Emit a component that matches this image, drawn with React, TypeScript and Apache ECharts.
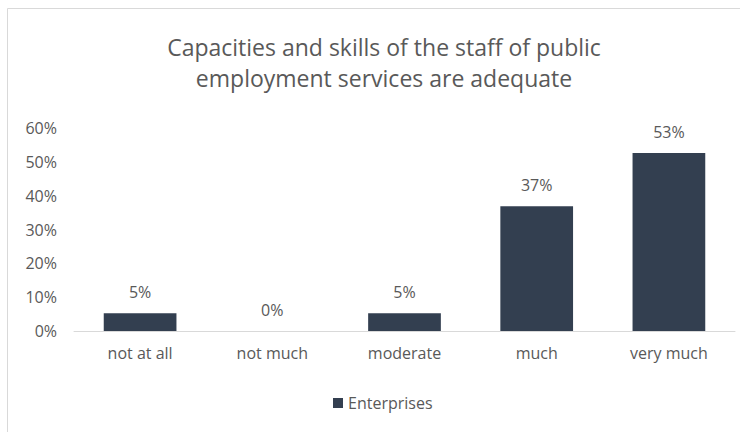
import React, { useEffect, useRef } from "react";
import * as echarts from "echarts";

const categories = ["not at all", "not much", "moderate", "much", "very much"];
const enterprises = [5.26, 0, 5.26, 36.84, 52.63];
const yTicks = [0, 10, 20, 30, 40, 50, 60];
const seriesName = "Enterprises";
const titleText = "Capacities and skills of the staff of public\nemployment services are adequate";

export default function App() {
  const ref = useRef<HTMLDivElement>(null);
  useEffect(() => {
    if (!ref.current) return;
    const chart = echarts.init(ref.current, undefined, { renderer: "svg" });
    const font = "'Open Sans', sans-serif";
    chart.setOption({
      animation: false,
      backgroundColor: "#ffffff",
      textStyle: { fontFamily: font },
      title: {
        text: titleText,
        left: 379,
        textAlign: "center",
        top: 26,
        textStyle: { fontFamily: font, fontSize: 23, fontWeight: "normal", color: "#595959", lineHeight: 31 },
      },
      graphic: [
        { type: "line", shape: { x1: 7.5, y1: 8.5, x2: 740, y2: 8.5 }, style: { stroke: "#d9d9d9", lineWidth: 1 } },
        { type: "line", shape: { x1: 7.5, y1: 8.5, x2: 7.5, y2: 432 }, style: { stroke: "#d9d9d9", lineWidth: 1 } },
      ],
      legend: {
        data: [seriesName],
        top: 393,
        left: 333,
        padding: 0,
        itemWidth: 10,
        itemHeight: 10,
        itemGap: 5,
        icon: "rect",
        textStyle: { fontFamily: font, fontSize: 16, color: "#595959", lineHeight: 20, padding: [0, 0, 0, 0] },
      },
      grid: { left: 74, right: 5, top: 128, bottom: 101, containLabel: false },
      xAxis: {
        type: "category",
        data: categories,
        axisLine: { lineStyle: { color: "#d9d9d9", width: 1 } },
        axisTick: { show: false },
        axisLabel: { color: "#595959", fontSize: 16, fontFamily: font, margin: 14 },
      },
      yAxis: {
        type: "value",
        min: yTicks[0],
        max: yTicks[yTicks.length - 1],
        interval: 10,
        splitLine: { show: false },
        axisLine: { show: false },
        axisTick: { show: false },
        axisLabel: { color: "#595959", fontSize: 16, fontFamily: font, margin: 17, formatter: (v: number) => v + "%" },
      },
      series: [
        {
          name: seriesName,
          type: "bar",
          data: enterprises,
          barWidth: "55%",
          itemStyle: { color: "#333f50" },
          label: {
            show: true,
            position: "top",
            distance: 13,
            color: "#595959",
            fontSize: 16,
            fontFamily: font,
            formatter: (p: any) => Math.round(p.value) + "%",
          },
        },
      ],
    });
    return () => chart.dispose();
  }, []);
  return (
    <div
      ref={ref}
      style={{ position: "fixed", left: 0, top: 0, width: 740, height: 432 }}
    />
  );
}
